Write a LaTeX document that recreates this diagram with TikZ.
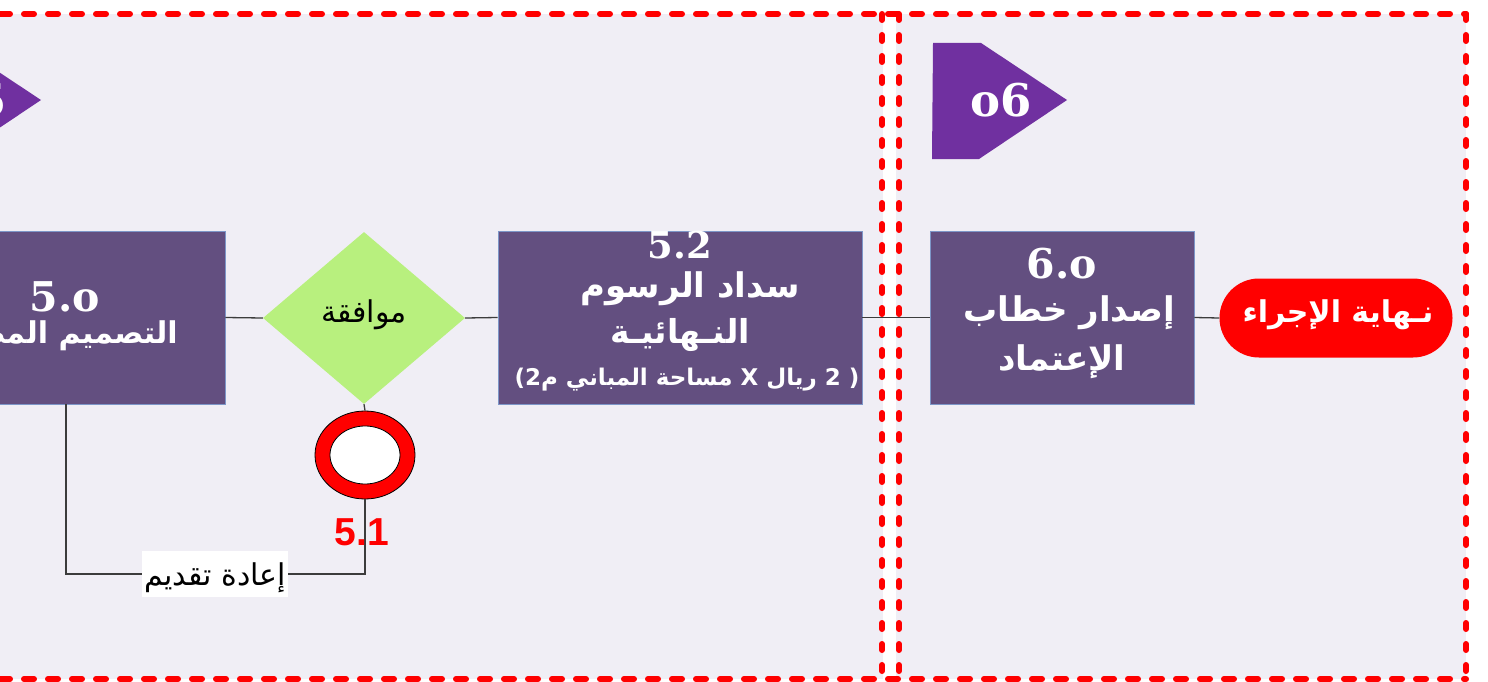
\documentclass[tikz,border=0pt]{standalone}
\usepackage{fontspec}
\usetikzlibrary{shapes.geometric}
\TeXXeTstate=1
\newfontfamily\arabicfont[Script=Arabic]{DejaVu Sans}
\newfontfamily\latinsans{Liberation Sans}
\newfontfamily\numserif{DejaVu Serif}
\newcommand\AR[1]{\arabicfont\beginR #1\endR}
\newcommand\fsz[1]{\fontsize{#1}{#1}\selectfont}
\definecolor{panelbg}{RGB}{240,238,245}
\definecolor{boxfill}{RGB}{99,79,128}
\definecolor{boxline}{RGB}{125,150,200}
\definecolor{tabpurple}{RGB}{112,48,160}
\definecolor{dgreen}{RGB}{184,240,126}
\definecolor{connc}{RGB}{60,60,60}
\tikzset{
  procbox/.style={rectangle, fill=boxfill, draw=boxline, line width=0.8, inner sep=0},
  conn/.style={draw=connc, line width=1.3},
  redborder/.style={draw=red, line width=6, line cap=round},
  wtext/.style={text=white, inner sep=0},
}
\begin{document}
\begin{tikzpicture}[x=1pt,y=-1pt]
\useasboundingbox (0,0) rectangle (1488,682);
% panels
\fill[panelbg] (0,14) rectangle (883,679);
\fill[panelbg] (896,14) rectangle (1466,679);

% step tabs
\fill[tabpurple] (-93,43) -- (-45,43) -- (41,100) -- (-47,159) -- (-94,159) -- cycle;
\node[wtext] (tab5) at (-24,100) {\numserif\bfseries\fsz{45}o5};
\fill[tabpurple] (933,43) -- (981,43) -- (1067,100) -- (979,159) -- (932,159) -- cycle;
\node[wtext] (tab6) at (1001,100) {\numserif\bfseries\fsz{45}o6};

% boxes
\node[procbox, minimum width=320, minimum height=173] (box50) at (65,317.5) {};
\node[procbox, minimum width=364, minimum height=173] (box52) at (680,317.5) {};
\node[procbox, minimum width=264, minimum height=173] (box60) at (1062,317.5) {};

% diamond
\node[diamond, fill=dgreen, inner sep=0, minimum width=202, minimum height=172] (dia) at (364,318) {};
\node[inner sep=0] (diat) at (364,315) {\fsz{30}\AR{موافقة}};

% circle 5.1
\node[ellipse, fill=red, draw=black, line width=0.8, minimum width=100, minimum height=88, inner sep=0] (circ) at (365,455) {};
\node[ellipse, fill=white, draw=black, line width=0.8, minimum width=70, minimum height=58, inner sep=0] (circin) at (365,455) {};

% terminal
\node[rectangle, rounded corners=39.5, fill=red, minimum width=233, minimum height=79, inner sep=0] (term) at (1336,318) {};
\node[wtext] (termt) at (1338,315) {\fsz{30}\bfseries\AR{نـهاية الإجراء}};

% connectors
\draw[conn] (box50.east) -- (dia.west);
\draw[conn] (dia.east) -- (box52.west);
\draw[conn] (box52.east) -- (box60.west);
\draw[conn] (box60.east) -- (term.west);
\draw[conn] (dia.south) -- (circ.north);
\coordinate (lpR) at (365,574);
\coordinate (lpL) at (66,574);
\draw[conn] (circ.south) -- (lpR) -- (lpL) -- (lpL |- box50.south);
\node[fill=white, inner xsep=2, minimum height=46, text depth=0] (relbl) at (215,574) {\fsz{30}\AR{إعادة تقديم}};
\node[text=red, inner sep=0] (num51) at (362,532) {\latinsans\bfseries\fsz{39}5.1};

% box texts
\node[wtext] (t50a) at (65,297) {\numserif\bfseries\fsz{41}5.o};
\node[wtext, anchor=east] (t50b) at (178,336) {\fsz{30}\bfseries\AR{التصميم المطور}};

\node[wtext] (t52a) at (680,245) {\numserif\bfseries\fsz{37}5.2};
\node[wtext] (t52b) at (690,289) {\fsz{34}\bfseries\AR{سداد الرسوم}};
\node[wtext] (t52c) at (680,335) {\fsz{33}\bfseries\AR{النـهائيـة}};
\node[wtext] (t52d) at (687,380) {\fsz{23}\bfseries\AR{( 2 ريال  X مساحة المباني م2)}};

\node[wtext] (t60a) at (1062,264) {\numserif\bfseries\fsz{41}6.o};
\node[wtext] (t60b) at (1069,313) {\fsz{34}\bfseries\AR{إصدار خطاب}};
\node[wtext] (t60c) at (1062,362) {\fsz{34}\bfseries\AR{الإعتماد}};

% red dashed borders
\draw[redborder, dash pattern=on 10 off 14] (0,14) -- (1466,14);
\draw[redborder, dash pattern=on 10 off 14] (0,679) -- (1466,679);
\draw[redborder, dash pattern=on 6 off 15] (882,14) -- (882,679);
\draw[redborder, dash pattern=on 6 off 15] (899,14) -- (899,679);
\draw[redborder, dash pattern=on 6 off 15] (1466,14) -- (1466,679);
\end{tikzpicture}
\end{document}
